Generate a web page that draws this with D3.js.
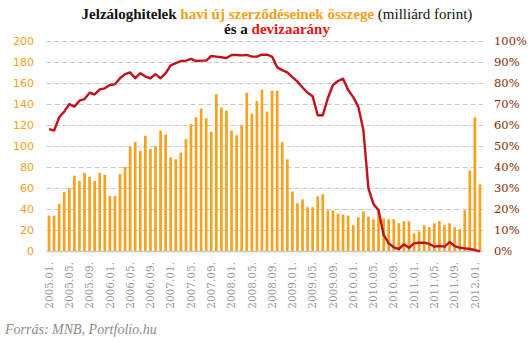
<!DOCTYPE html>
<html><head><meta charset="utf-8">
<script src="https://cdn.jsdelivr.net/npm/d3@7"></script>
<style>body{margin:0;background:#fff}svg{display:block}</style>
</head><body><svg id="c" width="531" height="342"></svg>
<script>
// months 2005.01 .. 2012.02
const months = [];
for (let y = 2005; y <= 2012; y++) for (let m = 1; m <= 12; m++) {
  if (y === 2012 && m > 2) break;
  months.push(y + "." + String(m).padStart(2, "0") + ".");
}
// new mortgage contracts, billion HUF
const volume = [34,34,45,56.5,60,72,67,74.6,71,67,74.6,72.7,52.7,52.7,73.6,80.3,99.4,104,95.6,110,
  97.5,100,115,111,89.5,87.6,94,106.7,121,127.6,136,126.7,114,149.5,137,134,115,110.5,120,151,
  131,143,154,133,153,153,104,87.6,57,45.7,49.5,42,42,52.4,54.3,39,39,36,35,34,
  24.8,32.4,38,33,30.5,40,31.4,30.5,30.5,26.7,28.6,28.6,17.1,19,24.8,22.9,26.7,28.6,24.8,26.7,
  22.9,21,39,77,127.6,63.8];
// foreign currency share, %
const fxShare = [58.2,57.5,63.8,66.5,70.1,68.9,71.7,72.5,75.5,74.7,77.1,77.6,79.2,79.5,82.4,84.4,85.2,82.4,84.8,83.2,
  82.4,84.4,82.4,84.8,88.5,89.6,90.6,90.8,91.6,90.6,90.8,90.8,93,92.7,92.4,92,93.5,93.5,93.3,93.5,
  92.7,92.7,93.6,93.6,92.7,87.6,86.3,85.2,82.9,80.8,78,75.5,73.8,64.8,64.8,73,79.2,81.1,82.2,76.8,
  73.4,68.9,57.8,30,22.5,19.5,7.8,3.8,1.9,1.1,3.3,1.7,3.8,4.1,4.1,3.5,2.2,2.5,2.2,4.4,
  2.5,1.7,1.4,1.1,0.6,0];
const leftTicks = [0,20,40,60,80,100,120,140,160,180,200];
const rightTicks = [0,10,20,30,40,50,60,70,80,90,100];
const tickMonths = months.filter((d, i) => i % 4 === 0);

const svg = d3.select("#c");
const x = d3.scaleBand().domain(months).range([46.5, 482.5]).paddingInner(0.47).paddingOuter(0.235);
const yL = d3.scaleLinear().domain([0, 200]).range([251.3, 41.3]);
const yR = d3.scaleLinear().domain([0, 100]).range([251.3, 41.3]);
const cx = d => x(d) + x.bandwidth() / 2;

// grid
svg.append("g").selectAll("line").data(leftTicks.slice(1)).join("line")
  .attr("x1", 46.5).attr("x2", 483).attr("y1", d => Math.round(yL(d)) + 0.5).attr("y2", d => Math.round(yL(d)) + 0.5)
  .attr("stroke", "#c8c8c8").attr("stroke-dasharray", "5,3").attr("stroke-width", 1);

// bars
svg.append("g").selectAll("rect").data(volume).join("rect")
  .attr("x", (d, i) => x(months[i])).attr("width", x.bandwidth())
  .attr("y", d => yL(d)).attr("height", d => yL(0) - yL(d))
  .attr("fill", "#f7a21e");

// baseline
svg.append("line").attr("x1", 46.5).attr("x2", 483).attr("y1", 251.5).attr("y2", 251.5)
  .attr("stroke", "#c8c8c8").attr("stroke-width", 1.5);

// line
svg.append("path").datum(fxShare)
  .attr("d", d3.line().x((d, i) => cx(months[i])).y(d => yR(d)))
  .attr("fill", "none").attr("stroke", "#c0121c").attr("stroke-width", 2.4).attr("stroke-linejoin", "round");

// left axis
const gl = svg.append("g").attr("transform", "translate(34,0)")
  .call(d3.axisLeft(yL).tickValues(leftTicks).tickSize(0).tickPadding(0));
gl.select(".domain").remove();
gl.selectAll("text").attr("fill", "#f5a01a").style("font", "11px 'DejaVu Sans'");

// right axis
const gr = svg.append("g").attr("transform", "translate(494,0)")
  .call(d3.axisRight(yR).tickValues(rightTicks).tickSize(0).tickPadding(0).tickFormat(d => d + "%"));
gr.select(".domain").remove();
gr.selectAll("text").attr("fill", "#8a2a08").style("font", "11.5px 'DejaVu Serif'");

// x axis
const gx = svg.append("g").attr("transform", "translate(0,262)")
  .call(d3.axisBottom(x).tickValues(tickMonths).tickSize(0).tickPadding(0).tickFormat(d => d));
gx.select(".domain").remove();
gx.selectAll("text").attr("fill", "#9a9a9a").style("font", "10.5px 'DejaVu Serif'")
  .attr("transform", "rotate(-90)").attr("text-anchor", "end").attr("dy", "0.35em").attr("y", 0).attr("x", 0);

// title
const t = svg.append("text").attr("text-anchor", "middle").style("font", "bold 15px 'Liberation Serif'");
const l1 = t.append("tspan").attr("x", 277).attr("y", 19);
l1.append("tspan").attr("fill", "#111").text("Jelzáloghitelek ");
l1.append("tspan").attr("fill", "#f5a01a").text("havi új szerződéseinek összege ");
l1.append("tspan").attr("fill", "#111").attr("font-weight", "normal").text("(milliárd forint)");
const l2 = t.append("tspan").attr("x", 277).attr("y", 33.5);
l2.append("tspan").attr("fill", "#111").text("és a ");
l2.append("tspan").attr("fill", "#ee1111").text("devizaarány");

svg.append("text").attr("x", 5).attr("y", 334).attr("fill", "#8c8c8c")
  .style("font", "italic 14px 'Liberation Serif'").text("Forrás: MNB, Portfolio.hu");
</script></body></html>
